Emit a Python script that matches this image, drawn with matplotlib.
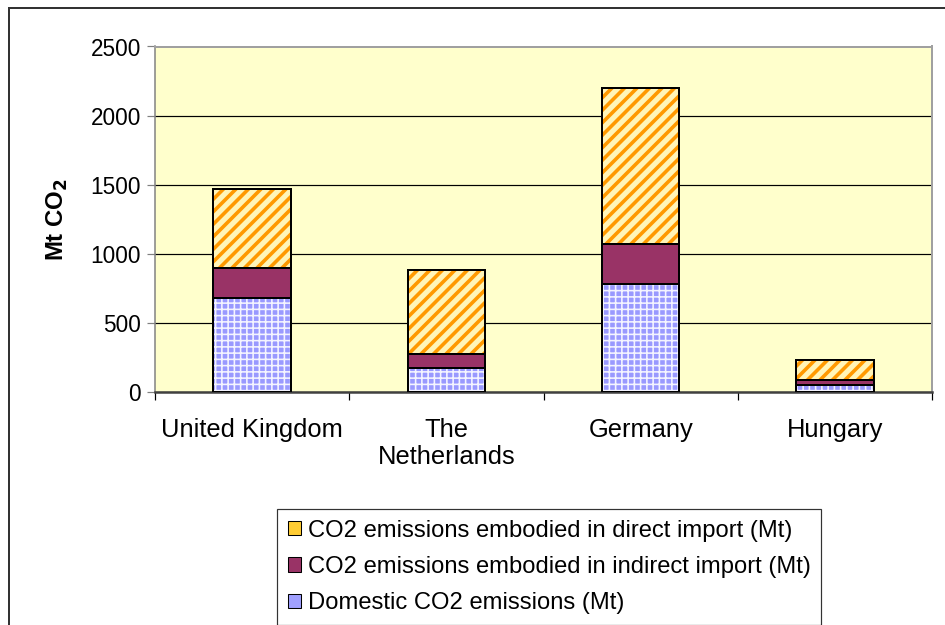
import matplotlib
matplotlib.use('Agg')
import matplotlib.pyplot as plt
from matplotlib.patches import Rectangle, Patch
import numpy as np

plt.rcParams['font.family'] = ['Liberation Sans', 'DejaVu Sans']

countries = ['United Kingdom', 'The\nNetherlands', 'Germany', 'Hungary']
domestic = [677, 171, 778, 53]
indirect = [221, 101, 296, 34]
direct = [570, 609, 1123, 148]

DPI = 75
PX = 72.0 / DPI  # one pixel in points

fig = plt.figure(figsize=(945 / DPI, 625 / DPI), dpi=DPI)
ax = fig.add_axes([155 / 945, 1 - 392 / 625, (932 - 155) / 945, (392 - 46.5) / 625])
ax.set_facecolor('#FFFFCC')

x = np.arange(len(countries))
w = 0.4
bottom2 = np.array(domestic)
bottom3 = bottom2 + np.array(indirect)

plt.rcParams['hatch.linewidth'] = 1.6 * PX
ax.bar(x, domestic, w, color='#9999FF', edgecolor='#F4F4FF', hatch='++', linewidth=0, zorder=2)
ax.bar(x, indirect, w, bottom=bottom2, color='#993366', linewidth=0, zorder=2)
plt.rcParams['hatch.linewidth'] = 3.6 * PX
ax.bar(x, direct, w, bottom=bottom3, color='#FFF5B8', edgecolor='#FF9900', hatch='//', linewidth=0, zorder=2)
# black outlines
for vals, bot in [(domestic, 0), (indirect, bottom2), (direct, bottom3)]:
    ax.bar(x, vals, w, bottom=bot, fill=False, edgecolor='black', linewidth=2 * PX, zorder=3)

ax.set_xlim(-0.5, len(countries) - 0.5)
ax.set_ylim(0, 2500)
ax.set_yticks(np.arange(0, 2501, 500))
ax.yaxis.grid(True, color='black', linewidth=1.2 * PX, zorder=1)
ax.set_axisbelow(True)

ax.set_xticks(x)
ax.set_xticklabels(countries, fontsize=25.5 * PX, linespacing=1.15)
ax.set_xticks(np.arange(-0.5, len(countries)), minor=True)
ax.tick_params(axis='x', which='major', length=0, pad=26 * PX)
ax.tick_params(axis='x', which='minor', length=8 * PX, width=1.2 * PX, color='black', direction='out')
ax.tick_params(axis='y', length=8 * PX, width=1.2 * PX, color='#808080', labelsize=22.5 * PX, pad=6 * PX)

for s in ['top', 'right']:
    ax.spines[s].set_color('#A0A0A0')
    ax.spines[s].set_linewidth(2 * PX)
ax.spines['left'].set_color('#808080')
ax.spines['left'].set_linewidth(1.5 * PX)
ax.spines['bottom'].set_color('#404040')
ax.spines['bottom'].set_linewidth(2.5 * PX)

ax.set_ylabel('Mt CO$_\\mathbf{2}$', fontsize=24 * PX, fontweight='bold', labelpad=20 * PX)

handles = [
    Patch(facecolor='#FFCC33', edgecolor='black', label='CO2 emissions embodied in direct import (Mt)'),
    Patch(facecolor='#993366', edgecolor='black', label='CO2 emissions embodied in indirect import (Mt)'),
    Patch(facecolor='#A0A0FF', edgecolor='black', label='Domestic CO2 emissions (Mt)'),
]
leg = fig.legend(handles=handles, loc='upper left', bbox_to_anchor=(277 / 945, 1 - 509 / 625),
                 fontsize=23.7 * PX, frameon=True, fancybox=False, edgecolor='black',
                 handlelength=0.55, handleheight=0.55, handletextpad=0.3,
                 labelspacing=0.6, borderpad=0.45, borderaxespad=0)
leg.get_frame().set_linewidth(1.2 * PX)

# outer chart border
fig.patches.append(Rectangle((9 / 945, -0.2), 1.2, 1.2 - 8 / 625, transform=fig.transFigure,
                             fill=False, edgecolor='#333333', linewidth=2 * PX, clip_on=False))

fig.savefig('out.png', dpi=DPI)
